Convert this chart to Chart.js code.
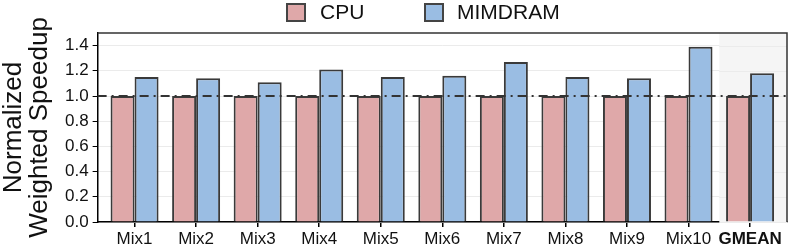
<!DOCTYPE html>
<html>
<head>
<meta charset="utf-8">
<script src="https://cdn.jsdelivr.net/npm/chart.js@4.4.0/dist/chart.umd.min.js"></script>
<style>
  html, body { margin: 0; padding: 0; background: #fff; }
  #wrap { position: relative; width: 789px; height: 247px; }
  #legend { position: absolute; top: 0; left: 0; width: 789px; height: 26px; font-family: "Liberation Sans", Arial, sans-serif; font-size: 21px; color: #111; }
  .box { position: absolute; top: 3px; width: 16px; height: 15px; border: 2px solid #444; }
  .lbl { position: absolute; top: 0px; line-height: 23px; }
</style>
</head>
<body>
<div id="wrap">
  <canvas id="chart" width="789" height="247"></canvas>
  <div id="legend">
    <div class="box" style="left:286px;background:#dfa8a9"></div><div class="lbl" style="left:320px">CPU</div>
    <div class="box" style="left:424px;background:#9abde3"></div><div class="lbl" style="left:457px">MIMDRAM</div>
  </div>
</div>
<script>
'use strict';

const categories = ['Mix1', 'Mix2', 'Mix3', 'Mix4', 'Mix5', 'Mix6', 'Mix7', 'Mix8', 'Mix9', 'Mix10', 'GMEAN'];
const cpuValues = [1, 1, 1, 1, 1, 1, 1, 1, 1, 1, 1];
const mimdramValues = [1.15, 1.14, 1.11, 1.21, 1.15, 1.16, 1.27, 1.15, 1.14, 1.39, 1.18];
const yTickLabels = ['0.0', '0.2', '0.4', '0.6', '0.8', '1.0', '1.2', '1.4'];
const baseline = 1.0;

const FONT = '"Liberation Sans", Arial, sans-serif';

// gray band behind GMEAN, frame and dash-dot line at 1.0
const decorPlugin = {
    id: 'decor',
    beforeDatasetsDraw(chart) {
        const { ctx, chartArea, scales } = chart;
        const x0 = scales.x.getPixelForValue(categories.length - 1.5);
        ctx.save();
        ctx.fillStyle = '#f5f5f5';
        ctx.fillRect(x0, chartArea.top, chartArea.right - x0, chartArea.bottom - chartArea.top);
        ctx.strokeStyle = '#ebebeb';
        ctx.lineWidth = 1;
        scales.y.ticks.forEach(t => {
            const y = Math.round(scales.y.getPixelForValue(t.value)) + 0.5;
            ctx.beginPath();
            ctx.moveTo(x0, y);
            ctx.lineTo(chartArea.right, y);
            ctx.stroke();
        });
        ctx.restore();
    },
    afterDatasetsDraw(chart) {
        const { ctx, chartArea, scales } = chart;
        const y = scales.y.getPixelForValue(baseline);
        ctx.save();
        ctx.strokeStyle = '#333';
        ctx.lineWidth = 2;
        ctx.setLineDash([9, 5, 2, 5]);
        ctx.beginPath();
        ctx.moveTo(chartArea.left, y);
        ctx.lineTo(chartArea.right, y);
        ctx.stroke();
        ctx.setLineDash([]);
        ctx.strokeStyle = '#333';
        ctx.lineWidth = 1.5;
        ctx.beginPath();
        ctx.moveTo(chartArea.left, chartArea.top);
        ctx.lineTo(chartArea.right, chartArea.top);
        ctx.lineTo(chartArea.right, chartArea.bottom);
        ctx.stroke();
        ctx.restore();
    }
};

const toPoints = arr => arr.map((v, i) => ({ x: i, y: v }));

new Chart(document.getElementById('chart').getContext('2d'), {
    type: 'bar',
    data: {
        datasets: [{
            label: 'CPU',
            data: toPoints(cpuValues),
            backgroundColor: '#dfa8a9',
            borderColor: '#3a3a3a',
            borderWidth: 2,
            categoryPercentage: 0.78,
            barPercentage: 1.0
        }, {
            label: 'MIMDRAM',
            data: toPoints(mimdramValues),
            backgroundColor: '#9abde3',
            borderColor: '#3a3a3a',
            borderWidth: 2,
            categoryPercentage: 0.78,
            barPercentage: 1.0
        }]
    },
    options: {
        responsive: false,
        animation: false,
        layout: { padding: { top: 33, right: 2, left: 1, bottom: -5 } },
        plugins: {
            legend: { display: false },
            tooltip: { enabled: false }
        },
        scales: {
            x: {
                type: 'linear',
                offset: false,
                min: -0.6,
                max: categories.length - 0.4,
                afterBuildTicks: scale => {
                    scale.ticks = categories.map((c, i) => ({ value: i }));
                },
                grid: { drawOnChartArea: false, drawTicks: true, tickLength: 5, color: '#000', lineWidth: 1.5, offset: false },
                border: { color: '#000', width: 1.5 },
                ticks: {
                    autoSkip: false,
                    maxRotation: 0,
                    padding: 4,
                    color: '#111',
                    callback: v => categories[v],
                    font: ctx => ({ family: FONT, size: 17, lineHeight: 1.0, weight: ctx.index === categories.length - 1 ? 'bold' : 'normal' })
                }
            },
            y: {
                min: 0,
                max: 1.5,
                afterBuildTicks: scale => {
                    const t = [];
                    for (let i = 0; i <= 15; i++) t.push({ value: i / 10 });
                    scale.ticks = t;
                },
                grid: {
                    color: '#ebebeb',
                    lineWidth: 1,
                    tickLength: 5,
                    tickColor: ctx => (ctx.index % 2 === 0 && ctx.index < 15) ? '#000' : 'rgba(0,0,0,0)'
                },
                border: { color: '#000', width: 1.5 },
                ticks: {
                    color: '#111',
                    padding: 4,
                    font: { family: FONT, size: 17 },
                    callback: (v, i) => (i % 2 === 0 && i < 15) ? yTickLabels[i / 2] : ''
                },
                title: {
                    display: true,
                    text: ['Normalized', 'Weighted Speedup'],
                    color: '#111',
                    font: { family: FONT, size: 26, lineHeight: 1.0 },
                    padding: { top: 0, bottom: 8 }
                }
            }
        }
    },
    plugins: [decorPlugin]
});
</script>
</body>
</html>
